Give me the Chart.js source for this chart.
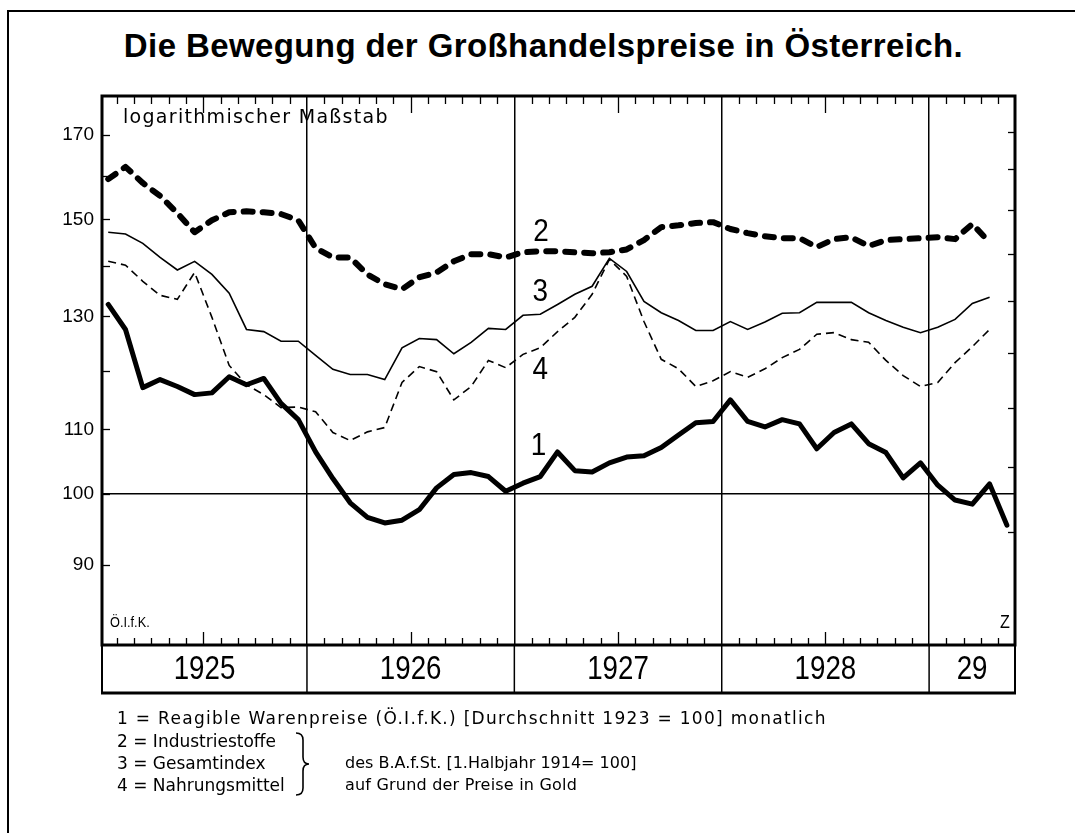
<!DOCTYPE html>
<html>
<head>
<meta charset="utf-8">
<script src="https://cdn.jsdelivr.net/npm/chart.js@4/dist/chart.umd.min.js"></script>
<style>
  body { margin: 0; background: #fff; }
  #wrap { position: relative; width: 1075px; height: 833px; overflow: hidden; background: #fff; }
  #c { position: absolute; left: 0; top: 0; }
  .page { position: absolute; left: 7px; top: 10px; width: 1100px; height: 900px; border-left: 2px solid #000; border-top: 2px solid #000; }
  .title { position: absolute; left: 0; top: 27px; width: 1087px; text-align: center; font: bold 33px "Liberation Sans", Arial, sans-serif; letter-spacing: 0.4px; color: #000; }
  .note { position: absolute; font: 17px "DejaVu Sans", sans-serif; color: #000; line-height: 22px; white-space: nowrap; }
</style>
</head>
<body>
<div id="wrap">
  <div class="page"></div>
  <div class="title">Die Bewegung der Großhandelspreise in Österreich.</div>
  <canvas id="c" width="1075" height="833"></canvas>
  <div class="note" style="left:117px; top:707px; letter-spacing:1.3px;">1 = Reagible Warenpreise (Ö.I.f.K.) [Durchschnitt 1923 = 100] monatlich</div>
  <div class="note" style="left:117px; top:730px;">2 = Industriestoffe</div>
  <div class="note" style="left:117px; top:752px;">3 = Gesamtindex</div>
  <div class="note" style="left:117px; top:774px;">4 = Nahrungsmittel</div>
  <div class="note" style="left:345px; top:752px; font-size:16px;">des B.A.f.St. [1.Halbjahr 1914= 100]</div>
  <div class="note" style="left:345px; top:774px; font-size:16px; letter-spacing:0.2px;">auf Grund der Preise in Gold</div>
</div>
<script>
// Monate Jan 1925 - Mai 1929
const months = [
  '1925-01','1925-02','1925-03','1925-04','1925-05','1925-06','1925-07','1925-08','1925-09','1925-10','1925-11','1925-12',
  '1926-01','1926-02','1926-03','1926-04','1926-05','1926-06','1926-07','1926-08','1926-09','1926-10','1926-11','1926-12',
  '1927-01','1927-02','1927-03','1927-04','1927-05','1927-06','1927-07','1927-08','1927-09','1927-10','1927-11','1927-12',
  '1928-01','1928-02','1928-03','1928-04','1928-05','1928-06','1928-07','1928-08','1928-09','1928-10','1928-11','1928-12',
  '1929-01','1929-02','1929-03','1929-04','1929-05'
];
const yearLabels = ['1925', '1926', '1927', '1928', '29'];

// 1 = Reagible Warenpreise (Ö.I.f.K.)
const reagible = [
  132.3, 127.5, 117.0, 118.4, 117.2, 115.8, 116.1, 118.9, 117.5, 118.6, 114.3, 111.6,
  106.4, 102.3, 98.7, 96.6, 95.8, 96.2, 97.7, 100.9, 102.9, 103.2, 102.6, 100.4,
  101.6, 102.6, 106.4, 103.5, 103.3, 104.7, 105.6, 105.8, 107.1, 109.1, 111.1, 111.3,
  114.9, 111.3, 110.4, 111.6, 110.9, 106.9, 109.5, 110.9, 107.7, 106.3, 102.4, 104.7,
  101.3, 99.1, 98.5, 101.5, 95.5
];
// 2 = Industriestoffe
const industrie = [
  159.2, 162.1, 158.3, 155.3, 151.4, 147.2, 149.8, 151.6, 151.8, 151.6, 151.2, 149.8,
  143.8, 141.8, 141.8, 138.3, 136.3, 135.3, 137.7, 138.7, 141.0, 142.5, 142.5, 141.8,
  142.9, 143.1, 143.1, 142.9, 142.7, 142.9, 143.5, 145.5, 148.3, 148.7, 149.2, 149.4,
  147.9, 147.0, 146.3, 145.9, 145.9, 144.0, 145.7, 146.1, 144.2, 145.5, 145.7, 145.9,
  146.1, 145.7, 149.0, 145.0
];
// 3 = Gesamtindex
const gesamt = [
  147.2, 146.8, 144.8, 141.8, 139.2, 141.0, 138.3, 134.5, 127.5, 127.1, 125.3, 125.3,
  122.7, 120.2, 119.3, 119.3, 118.4, 124.1, 125.8, 125.6, 123.0, 125.1, 127.7, 127.5,
  130.2, 130.4, 132.3, 134.3, 135.9, 141.6, 138.9, 132.9, 130.7, 129.2, 127.3, 127.3,
  129.0, 127.5, 128.9, 130.6, 130.7, 132.7, 132.7, 132.7, 130.7, 129.2, 127.9, 126.9,
  127.9, 129.4, 132.5, 133.7
];
// 4 = Nahrungsmittel
const nahrung = [
  141.0, 140.2, 136.9, 134.1, 133.3, 138.7, 129.8, 120.9, 117.5, 115.8, 113.6, 113.7,
  112.9, 109.5, 108.2, 109.6, 110.3, 117.9, 120.7, 119.8, 114.9, 117.2, 121.8, 120.5,
  122.9, 124.1, 127.1, 129.8, 134.3, 141.4, 137.9, 129.0, 122.0, 120.3, 117.2, 118.2,
  119.8, 118.8, 120.3, 122.3, 123.8, 126.6, 126.9, 125.6, 125.1, 121.8, 119.1, 117.2,
  117.9, 121.4, 124.3, 127.5
];

const yTicks = [90, 100, 110, 130, 150, 170];
const yMinorTicks = [120, 140, 160];
const rightTicks = [94.5, 104, 113.6, 123.2, 133, 142.5, 152, 161.6, 170.7];

// Kurvenbeschriftung (Monatsindex, Wert)
const curveLabels = [
  { text: '1', x: 24.9, y: 107.2 },
  { text: '2', x: 25.05, y: 147.2 },
  { text: '3', x: 25.0, y: 134.7 },
  { text: '4', x: 25.0, y: 120.0 }
];

// Jahresgrenzen aus den Monaten
const yearBreaks = [];
const midYears = [];
months.forEach((m, i) => {
  if (i > 0 && m.slice(0, 4) !== months[i - 1].slice(0, 4)) yearBreaks.push(i - 0.5);
  if (m.slice(5) === '07') midYears.push(i - 0.5);
});

const pts = arr => arr.map((v, i) => ({ x: i, y: v }));
const FONT = '"Liberation Sans", Arial, sans-serif';

// schmale Schrift durch horizontale Stauchung
function narrowText(ctx, text, x, y, sx) {
  ctx.save();
  ctx.translate(x, y);
  ctx.scale(sx, 1);
  ctx.fillText(text, 0, 0);
  ctx.restore();
}

const decor = {
  id: 'decor',
  afterDraw(chart) {
    const { ctx, chartArea: a, scales: { x, y } } = chart;
    ctx.save();
    ctx.strokeStyle = '#000';
    ctx.fillStyle = '#000';

    // Monatsstriche oben und unten
    ctx.lineWidth = 1.3;
    for (let i = 0; i < months.length - 1; i++) {
      const b = i + 0.5;
      if (yearBreaks.includes(b)) continue;
      const px = Math.round(x.getPixelForValue(b)) + 0.5;
      const top = midYears.includes(b) ? 17 : 8;
      const bot = midYears.includes(b) ? 13 : 7;
      ctx.beginPath();
      ctx.moveTo(px, a.top); ctx.lineTo(px, a.top + top);
      ctx.moveTo(px, a.bottom); ctx.lineTo(px, a.bottom - bot);
      ctx.stroke();
    }

    // Skalenstriche links und rechts
    for (const v of yTicks.concat(yMinorTicks)) {
      const py = Math.round(y.getPixelForValue(v)) + 0.5;
      ctx.beginPath(); ctx.moveTo(a.left, py); ctx.lineTo(a.left + 8, py); ctx.stroke();
    }
    for (const v of rightTicks) {
      const py = Math.round(y.getPixelForValue(v)) + 0.5;
      ctx.beginPath(); ctx.moveTo(a.right, py); ctx.lineTo(a.right - 7, py); ctx.stroke();
    }

    // Rahmen
    ctx.lineWidth = 3;
    ctx.strokeRect(a.left, a.top, a.right - a.left, a.bottom - a.top);

    // Jahresleiste
    const bandH = 48;
    ctx.lineWidth = 2;
    ctx.beginPath();
    ctx.moveTo(a.left, a.bottom); ctx.lineTo(a.left, a.bottom + bandH);
    ctx.moveTo(a.right, a.bottom); ctx.lineTo(a.right, a.bottom + bandH);
    ctx.stroke();
    ctx.lineWidth = 3;
    ctx.beginPath();
    ctx.moveTo(a.left - 1, a.bottom + bandH); ctx.lineTo(a.right + 1, a.bottom + bandH);
    ctx.stroke();
    ctx.lineWidth = 1.5;
    yearBreaks.forEach(b => {
      const px = x.getPixelForValue(b);
      ctx.beginPath(); ctx.moveTo(px, a.bottom); ctx.lineTo(px, a.bottom + bandH); ctx.stroke();
    });
    const edges = [a.left].concat(yearBreaks.map(b => x.getPixelForValue(b)), [a.right]);
    ctx.font = '33px ' + FONT;
    ctx.textAlign = 'center';
    ctx.textBaseline = 'middle';
    yearLabels.forEach((t, i) => {
      narrowText(ctx, t, (edges[i] + edges[i + 1]) / 2, a.bottom + bandH / 2 + 1, 0.84);
    });

    // Kurvennummern
    ctx.font = '31px ' + FONT;
    curveLabels.forEach(l => {
      narrowText(ctx, l.text, x.getPixelForValue(l.x), y.getPixelForValue(l.y), 0.9);
    });

    // Texte im Diagramm
    ctx.textAlign = 'left';
    ctx.textBaseline = 'alphabetic';
    ctx.font = '19px "DejaVu Sans", sans-serif';
    ctx.letterSpacing = '1.3px';
    ctx.fillText('logarithmischer Maßstab', a.left + 21, a.top + 27);
    ctx.letterSpacing = '0px';
    ctx.font = '15px ' + FONT;
    narrowText(ctx, 'Ö.I.f.K.', a.left + 8, a.bottom - 18, 0.85);
    ctx.font = '19px ' + FONT;
    narrowText(ctx, 'Z', a.right - 15, a.bottom - 17, 0.85);

    // Klammer der Legende
    ctx.lineWidth = 1.6;
    ctx.beginPath();
    ctx.moveTo(296, 733);
    ctx.quadraticCurveTo(303, 733, 303, 740);
    ctx.lineTo(303, 757);
    ctx.quadraticCurveTo(303, 764, 309, 764);
    ctx.quadraticCurveTo(303, 764, 303, 771);
    ctx.lineTo(303, 788);
    ctx.quadraticCurveTo(303, 795, 296, 795);
    ctx.stroke();

    ctx.restore();
  }
};

new Chart(document.getElementById('c'), {
  type: 'line',
  data: {
    datasets: [
      { label: '1', data: pts(reagible), borderColor: '#000', borderWidth: 5, borderCapStyle: 'round', borderJoinStyle: 'round' },
      { label: '2', data: pts(industrie), borderColor: '#000', borderWidth: 6, borderDash: [9, 10], borderCapStyle: 'round', borderJoinStyle: 'round' },
      { label: '3', data: pts(gesamt), borderColor: '#000', borderWidth: 1.6 },
      { label: '4', data: pts(nahrung), borderColor: '#000', borderWidth: 1.6, borderDash: [8, 5] }
    ]
  },
  options: {
    responsive: false,
    animation: false,
    devicePixelRatio: 1,
    layout: { padding: { left: 0, top: 96, right: 60, bottom: 188 } },
    elements: { point: { radius: 0 }, line: { tension: 0, fill: false } },
    plugins: { legend: { display: false }, tooltip: { enabled: false } },
    scales: {
      x: {
        type: 'linear', min: -0.36, max: 52.47,
        border: { display: false },
        ticks: { display: false },
        grid: { color: '#000', lineWidth: 1.5, drawTicks: false },
        afterBuildTicks: s => { s.ticks = yearBreaks.map(v => ({ value: v })); },
        afterFit: s => { s.height = 0; }
      },
      y: {
        type: 'logarithmic', min: 80, max: 180,
        border: { display: false },
        ticks: { color: '#000', font: { family: FONT, size: 19 }, padding: 8, autoSkip: false, callback: v => String(v) },
        grid: { drawTicks: false, lineWidth: 1.5, color: c => (c.tick && c.tick.value === 100) ? '#000' : 'rgba(0,0,0,0)' },
        afterBuildTicks: s => { s.ticks = yTicks.map(v => ({ value: v })); },
        afterFit: s => { s.width = 102; }
      }
    }
  },
  plugins: [decor]
});
</script>
</body>
</html>
